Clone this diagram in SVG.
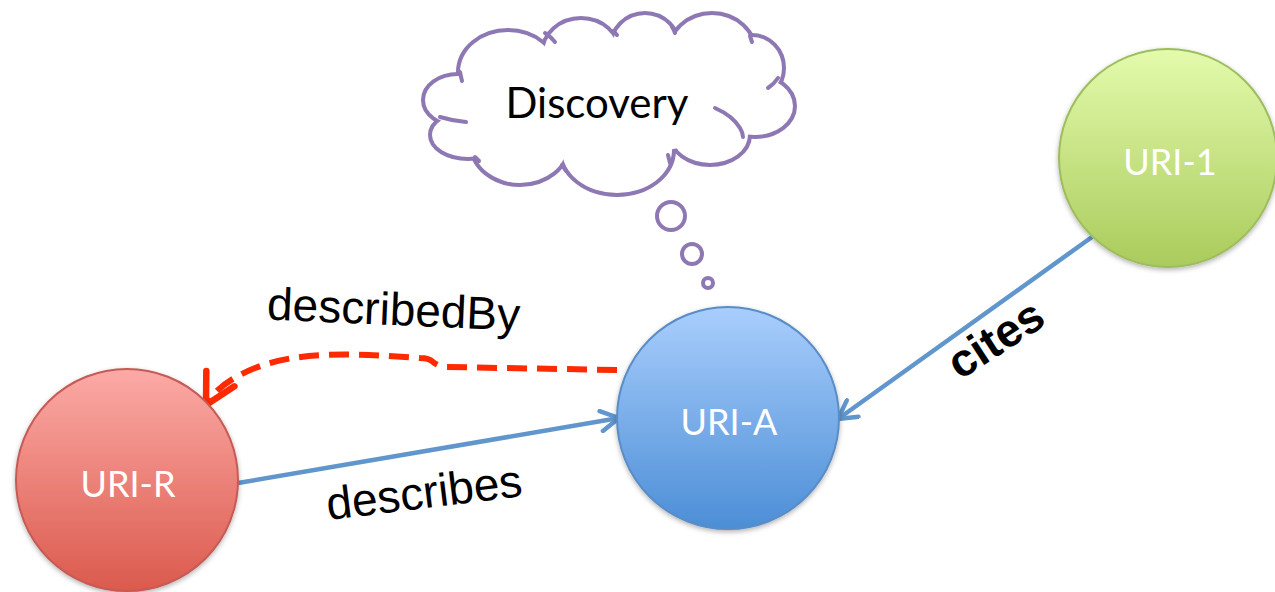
<svg xmlns="http://www.w3.org/2000/svg" width="1275" height="592" viewBox="0 0 1275 592">
  <defs>
    <linearGradient id="gradRed" x1="0" y1="0" x2="0" y2="1">
      <stop offset="0" stop-color="#FCAAA6"/>
      <stop offset="1" stop-color="#DB5A4D"/>
    </linearGradient>
    <linearGradient id="gradBlue" x1="0" y1="0" x2="0" y2="1">
      <stop offset="0" stop-color="#A9CEFD"/>
      <stop offset="1" stop-color="#4C8ED6"/>
    </linearGradient>
    <linearGradient id="gradGreen" x1="0" y1="0" x2="0" y2="1">
      <stop offset="0" stop-color="#E3FBAC"/>
      <stop offset="1" stop-color="#AACB5C"/>
    </linearGradient>
    <filter id="shadow" x="-20%" y="-20%" width="140%" height="140%">
      <feDropShadow dx="0" dy="2" stdDeviation="2.5" flood-color="#000" flood-opacity="0.3"/>
    </filter>
    <marker id="arrowBlue" viewBox="0 0 24 24" refX="21" refY="12" markerWidth="24" markerHeight="24" markerUnits="userSpaceOnUse" orient="auto">
      <path d="M3,2 L21,12 L3,22" fill="none" stroke="#6096CC" stroke-width="4.5" stroke-linecap="round" stroke-linejoin="round"/>
    </marker>
    <marker id="arrowRed" viewBox="0 0 40 40" refX="35" refY="20" markerWidth="40" markerHeight="40" markerUnits="userSpaceOnUse" orient="auto">
      <path d="M5,4 L35,20 L5,36" fill="none" stroke="#FF2A00" stroke-width="6.5" stroke-linecap="round" stroke-linejoin="round"/>
    </marker>
    <style>
      .node-label { font-family: Lato, "Open Sans", "Liberation Sans", sans-serif; font-size: 36px; fill: #FFFFFF; text-anchor: middle; }
      .edge-label { font-family: "Liberation Sans", Arial, sans-serif; font-size: 46px; fill: #000000; text-anchor: middle; }
      .cloud-outer { fill: #FFFFFF; stroke: #8E78B3; stroke-width: 8; }
      .cloud-inner { fill: #FFFFFF; stroke: none; }
      .cloud-line { fill: none; stroke: #8E78B3; stroke-width: 4; stroke-linecap: round; }
      .link { fill: none; stroke: #6096CC; stroke-width: 4.5; }
    </style>
  </defs>

  <rect width="1275" height="592" fill="#FFFFFF"/>

  <!-- thought cloud -->
  <g id="discovery">
    <g class="cloud-outer">
      <ellipse cx="458" cy="100" rx="33" ry="24"/>
      <ellipse cx="508" cy="72" rx="48" ry="40"/>
      <ellipse cx="581" cy="53" rx="37" ry="33"/>
      <ellipse cx="645" cy="48" rx="33" ry="33"/>
      <ellipse cx="712" cy="53" rx="42" ry="38"/>
      <ellipse cx="752" cy="68" rx="30" ry="31"/>
      <ellipse cx="755" cy="106" rx="38" ry="29"/>
      <ellipse cx="710" cy="135" rx="38" ry="28"/>
      <ellipse cx="617" cy="150" rx="55" ry="43"/>
      <ellipse cx="520" cy="145" rx="47" ry="38"/>
      <ellipse cx="468" cy="135" rx="36" ry="22"/>
    </g>
    <g class="cloud-inner">
      <ellipse cx="458" cy="100" rx="33" ry="24"/>
      <ellipse cx="508" cy="72" rx="48" ry="40"/>
      <ellipse cx="581" cy="53" rx="37" ry="33"/>
      <ellipse cx="645" cy="48" rx="33" ry="33"/>
      <ellipse cx="712" cy="53" rx="42" ry="38"/>
      <ellipse cx="752" cy="68" rx="30" ry="31"/>
      <ellipse cx="755" cy="106" rx="38" ry="29"/>
      <ellipse cx="710" cy="135" rx="38" ry="28"/>
      <ellipse cx="617" cy="150" rx="55" ry="43"/>
      <ellipse cx="520" cy="145" rx="47" ry="38"/>
      <ellipse cx="468" cy="135" rx="36" ry="22"/>
      <ellipse cx="605" cy="100" rx="150" ry="55"/>
    </g>
    <!-- inner folds of the cloud -->
    <path class="cloud-line" d="M460,72 Q461,77 462,81"/>
    <path class="cloud-line" d="M545,33 Q551,37 555,42"/>
    <path class="cloud-line" d="M613,31 Q615,33 617,35"/>
    <path class="cloud-line" d="M672,27 Q674,30 675,33"/>
    <path class="cloud-line" d="M750,36 Q751,39 752,42"/>
    <path class="cloud-line" d="M768,88 Q774,84 778,78"/>
    <path class="cloud-line" d="M715,108 Q733,116 740,128 Q743,133 743,137"/>
    <path class="cloud-line" d="M668,155 Q669,159 670,163"/>
    <path class="cloud-line" d="M562,165 Q564,168 566,171"/>
    <path class="cloud-line" d="M475,157 Q477,159 479,161"/>
    <path class="cloud-line" d="M440,117 Q453,121 466,122"/>
    <text x="597" y="118" font-family="Lato, 'Open Sans', 'Liberation Sans', sans-serif" font-size="42" fill="#000000" text-anchor="middle">Discovery</text>
    <circle class="cloud-line" cx="671" cy="216" r="14"/>
    <circle class="cloud-line" cx="692" cy="254" r="10"/>
    <circle class="cloud-line" cx="708" cy="283" r="5"/>
  </g>

  <!-- connectors -->
  <g id="connectors">
    <path id="edge-describes" class="link" d="M238,483 L619,418" marker-end="url(#arrowBlue)"/>
    <path id="edge-cites" class="link" d="M1092,237 L838,419" marker-end="url(#arrowBlue)"/>
    <path id="edge-describedBy" d="M617,370 L446,367 Q438,366 433,362 Q429,358 420,358 C360,354 300,350 255,368 Q218,383 206,405" fill="none" stroke="#FF2A00" stroke-width="6" stroke-dasharray="20,10" marker-end="url(#arrowRed)"/>
    <text class="edge-label" x="393" y="325" transform="rotate(2.5 393 325)">describedBy</text>
    <text class="edge-label" x="426" y="508" transform="rotate(-7 426 508)">describes</text>
    <text class="edge-label" x="1004" y="352" font-size="40" font-weight="bold" transform="rotate(-33 1004 352)">cites</text>
  </g>

  <g id="uri-r">
    <circle cx="127" cy="480" r="111" fill="url(#gradRed)" stroke="#C65A55" stroke-width="2" filter="url(#shadow)"/>
    <text class="node-label" x="128" y="497">URI-R</text>
  </g>

  <g id="uri-a">
    <circle cx="728" cy="418" r="111" fill="url(#gradBlue)" stroke="#5A8CC6" stroke-width="2" filter="url(#shadow)"/>
    <text class="node-label" x="729" y="435">URI-A</text>
  </g>

  <g id="uri-1">
    <circle cx="1168" cy="158" r="109" fill="url(#gradGreen)" stroke="#9DBD5E" stroke-width="2" filter="url(#shadow)"/>
    <text class="node-label" x="1170" y="175">URI-1</text>
  </g>
</svg>
